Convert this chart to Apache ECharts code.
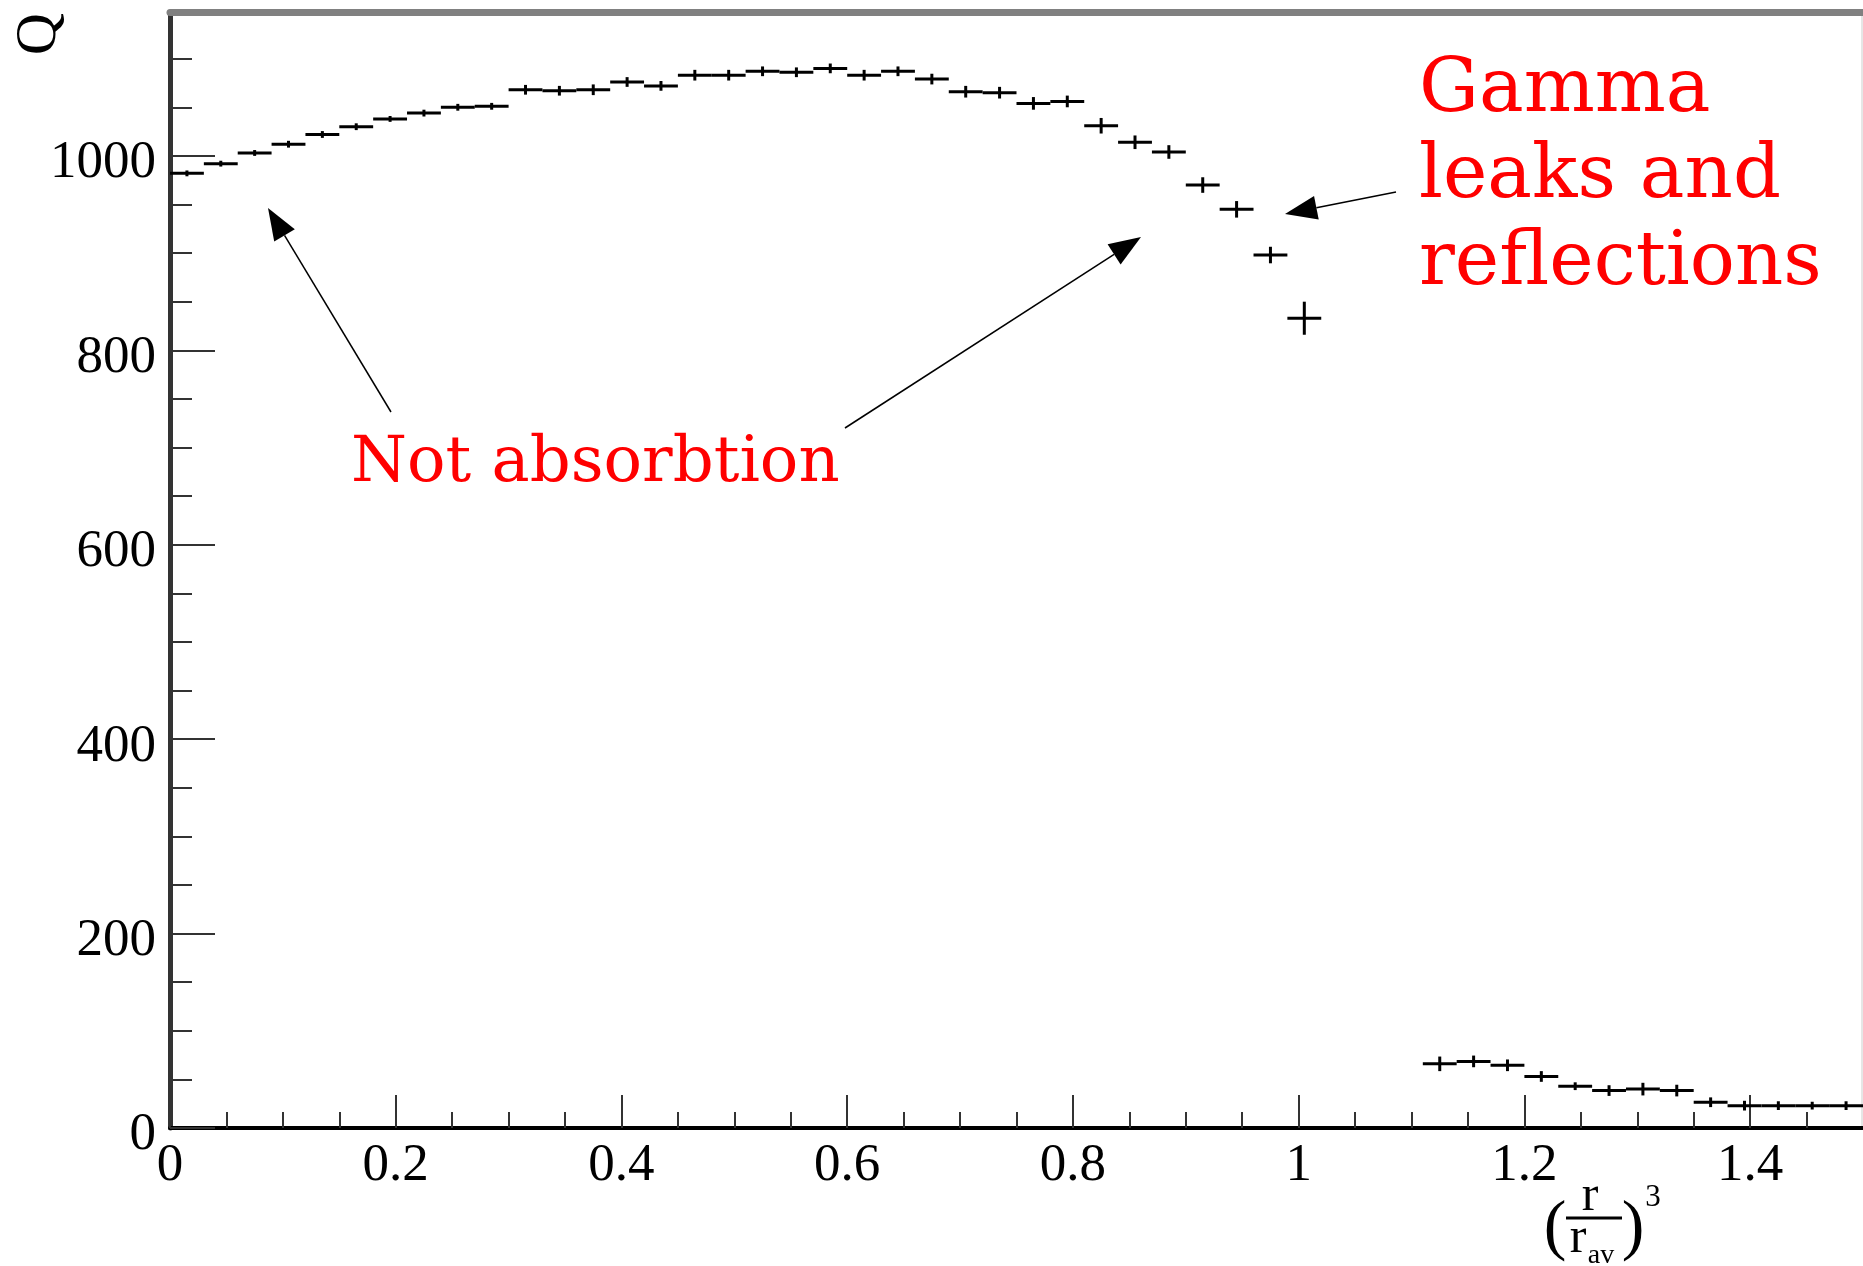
<!DOCTYPE html>
<html><head><meta charset="utf-8">
<script src="https://cdn.jsdelivr.net/npm/echarts@6/dist/echarts.min.js"></script>
<style>html,body{margin:0;padding:0;background:#fff}#c{width:1863px;height:1266px}</style>
</head><body><div id="c"></div>
<script>
// ---- data (histogram bins: centre, content, error) ----
const binCenters = [0.015,0.045,0.075,0.105,0.135,0.165,0.195,0.225,0.255,0.285,0.315,0.345,0.375,0.405,0.435,0.465,0.495,0.525,0.555,0.585,0.615,0.645,0.675,0.705,0.735,0.765,0.795,0.825,0.855,0.885,0.915,0.945,0.975,1.005,
  1.125,1.155,1.185,1.215,1.245,1.275,1.305,1.335,1.365,1.395,1.425,1.455,1.485];
const counts = [982,992,1003,1012,1022,1030,1038,1044,1050,1051,1068,1067,1068,1076,1072,1083,1083,1087,1086,1090,1083,1087,1079,1066,1065,1054,1056,1031,1014,1004,970,945,898,833,
  66,68.5,64.5,53,43,38.5,40,38.5,26.5,23,23,23,23];
const errors = [3,3,3,3.5,3.5,3.5,3,3.5,3.5,3.5,5,5,5.5,5,5,5.5,5.5,5,5,5,5.5,5,5.5,6,6,6.5,6,8,7,7,8,8.5,8.5,17,
  7.5,6,6,5.5,4,5.5,6.5,6,5,5,4.5,4,4.5];
const binWidth = 0.03;
const xMajorTicks = [0,0.2,0.4,0.6,0.8,1,1.2,1.4];
const xMinorTicks = [0.05,0.1,0.15,0.25,0.3,0.35,0.45,0.5,0.55,0.65,0.7,0.75,0.85,0.9,0.95,1.05,1.1,1.15,1.25,1.3,1.35,1.45];
const yMajorTicks = [0,200,400,600,800,1000];
const yMinorTicks = [50,100,150,250,300,350,450,500,550,650,700,750,850,900,950,1050,1100];
const xMin = 0, xMax = 1.5, yMin = 0, yMax = 1148;

const chart = echarts.init(document.getElementById('c'), null, {renderer:'canvas'});
const serif = 'Liberation Serif';
const red = '#ff0000';

function arrow(tail, tip) {
  const dx = tip[0]-tail[0], dy = tip[1]-tail[1], L = Math.hypot(dx, dy);
  const ux = dx/L, uy = dy/L, nx = -uy, ny = ux;
  const hl = 32, hw = 12;
  const bx = tip[0]-ux*hl, by = tip[1]-uy*hl;
  return [
    {type:'line', shape:{x1:tail[0], y1:tail[1], x2:bx, y2:by}, style:{stroke:'#000', lineWidth:1.5}, z:100},
    {type:'polygon', shape:{points:[tip, [bx+nx*hw, by+ny*hw], [bx-nx*hw, by-ny*hw]]}, style:{fill:'#000'}, z:100}
  ];
}

const tickLabelStyle = {fontFamily: serif, fontSize: 53, color: '#000'};

const option = {
  backgroundColor: '#fff',
  animation: false,
  grid: {left: 170, right: 0, top: 12, bottom: 138, containLabel: false},
  xAxis: [
    {type:'value', min:xMin, max:xMax, position:'bottom',
      axisLine:{show:true, onZero:false, lineStyle:{color:'#000', width:4}},
      axisTick:{show:true, inside:true, length:33, customValues:xMajorTicks, lineStyle:{color:'#333', width:2}},
      axisLabel:Object.assign({margin:-21, customValues:xMajorTicks, verticalAlign:'top', lineHeight:119,
        formatter: v => String(v)}, tickLabelStyle),
      splitLine:{show:false}},
    {type:'value', min:xMin, max:xMax, position:'bottom',
      axisLine:{show:false},
      axisTick:{show:true, inside:true, length:16, customValues:xMinorTicks, lineStyle:{color:'#333', width:2}},
      axisLabel:{show:false}, splitLine:{show:false}},
    {type:'value', min:xMin, max:xMax, position:'top',
      axisLine:{show:true, onZero:false, lineStyle:{color:'#808080', width:7}},
      axisTick:{show:false}, axisLabel:{show:false}, splitLine:{show:false}}
  ],
  yAxis: [
    {type:'value', min:yMin, max:yMax, position:'left',
      axisLine:{show:true, onZero:false, lineStyle:{color:'#333', width:5}},
      axisTick:{show:true, inside:true, length:45, customValues:yMajorTicks, lineStyle:{color:'#333', width:2}},
      axisLabel:Object.assign({margin:14, customValues:yMajorTicks, verticalAlign:'top', lineHeight:15,
        formatter: v => String(v)}, tickLabelStyle),
      splitLine:{show:false}},
    {type:'value', min:yMin, max:yMax, position:'left',
      axisLine:{show:false},
      axisTick:{show:true, inside:true, length:22, customValues:yMinorTicks, lineStyle:{color:'#333', width:2}},
      axisLabel:{show:false}, splitLine:{show:false}},
    {type:'value', min:yMin, max:yMax, position:'right',
      axisLine:{show:true, onZero:false, lineStyle:{color:'#e6e6e6', width:4}},
      axisTick:{show:false}, axisLabel:{show:false}, splitLine:{show:false}}
  ],
  series: [{
    type:'custom',
    xAxisIndex:0, yAxisIndex:0,
    data: binCenters.map((x, i) => [x, counts[i], errors[i]]),
    renderItem: function (params, api) {
      const xc = api.value(0), v = api.value(1), e = api.value(2);
      const pL = api.coord([xc - binWidth/2, v]);
      const pR = api.coord([xc + binWidth/2, v]);
      const pT = api.coord([xc, v + e]);
      const pB = api.coord([xc, v - e]);
      return {type:'group', children:[
        {type:'line', shape:{x1:pL[0], y1:pL[1], x2:pR[0], y2:pR[1]}, style:{stroke:'#000', lineWidth:3}},
        {type:'line', shape:{x1:pT[0], y1:pT[1], x2:pB[0], y2:pB[1]}, style:{stroke:'#000', lineWidth:3}}
      ]};
    }
  }],
  graphic: [
    // y-axis title
    {type:'text', x:40, y:34, rotation:Math.PI/2,
      style:{text:'Q', font:'58px "Liberation Serif"', fill:'#000', align:'center', verticalAlign:'middle'}},
    // x-axis title (r / r_av)^3
    {type:'text', x:1555, y:1229, style:{text:'(', font:'68px "Liberation Serif"', fill:'#000', align:'center', verticalAlign:'middle'}},
    {type:'text', x:1590, y:1197, style:{text:'r', font:'50px "Liberation Serif"', fill:'#000', align:'center', verticalAlign:'middle'}},
    {type:'line', shape:{x1:1566, y1:1218, x2:1622, y2:1218}, style:{stroke:'#000', lineWidth:3}},
    {type:'text', x:1578, y:1239, style:{text:'r', font:'50px "Liberation Serif"', fill:'#000', align:'center', verticalAlign:'middle'}},
    {type:'text', x:1601, y:1256, style:{text:'av', font:'28px "Liberation Serif"', fill:'#000', align:'center', verticalAlign:'middle'}},
    {type:'text', x:1633, y:1229, style:{text:')', font:'68px "Liberation Serif"', fill:'#000', align:'center', verticalAlign:'middle'}},
    {type:'text', x:1653, y:1198, style:{text:'3', font:'31px "Liberation Serif"', fill:'#000', align:'center', verticalAlign:'middle'}},
    // annotations
    {type:'text', x:1419, y:92, z:100, style:{text:'Gamma', font:'75px "DejaVu Serif"', fill:red, align:'left', verticalAlign:'middle'}},
    {type:'text', x:1419, y:178, z:100, style:{text:'leaks and', font:'75px "DejaVu Serif"', fill:red, align:'left', verticalAlign:'middle'}},
    {type:'text', x:1419, y:265, z:100, style:{text:'reflections', font:'75px "DejaVu Serif"', fill:red, align:'left', verticalAlign:'middle'}},
    {type:'text', x:351, y:464, z:100, style:{text:'Not absorbtion', font:'64px "DejaVu Serif"', fill:red, align:'left', verticalAlign:'middle'}},
    ...arrow([391, 412], [268, 208]),
    ...arrow([845, 428], [1141, 237]),
    ...arrow([1396, 192], [1285, 214])
  ]
};
chart.setOption(option);
</script>
</body></html>
